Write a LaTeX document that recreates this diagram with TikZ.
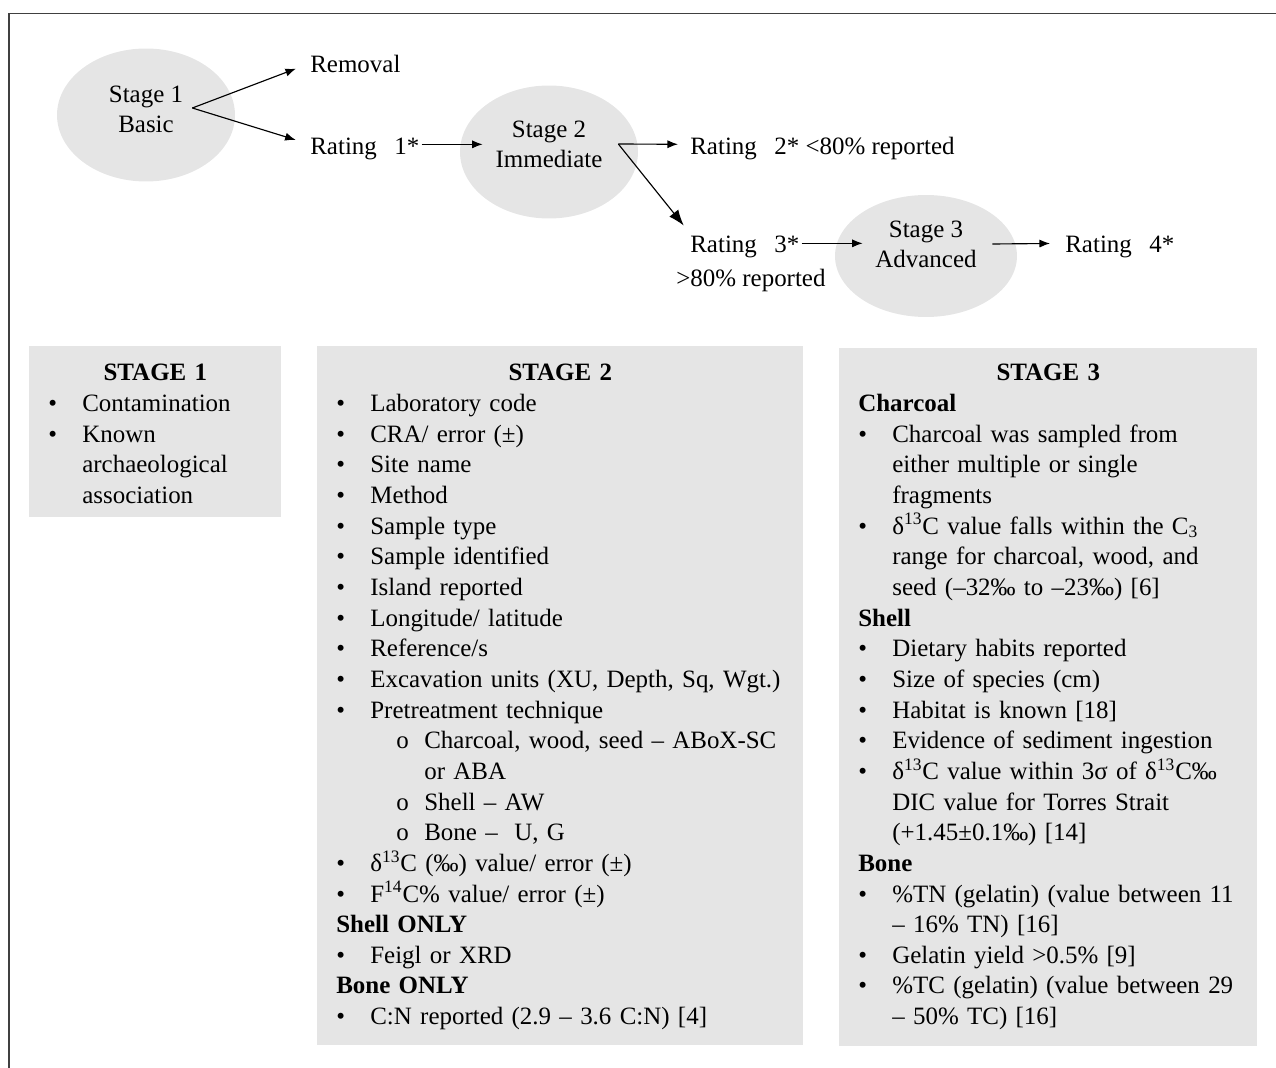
\documentclass[tikz,border=0pt]{standalone}
\usepackage{fontspec}
\setmainfont{Liberation Serif}
\usetikzlibrary{arrows.meta,shapes.geometric,calc}
\definecolor{panelgray}{RGB}{229,229,229}
\newcommand{\bul}[1]{\par\hangindent=0.68cm\hangafter=1\noindent\makebox[0.68cm][l]{\textbullet}#1}
\newcommand{\subbul}[1]{\par\hangindent=1.76cm\hangafter=1\noindent\hspace*{1.2cm}\makebox[0.56cm][l]{o}#1}
\newcommand{\hdr}[1]{\par\noindent\textbf{#1}}
\tikzset{
  stage/.style={ellipse,fill=panelgray,minimum width=3.56cm,minimum height=2.66cm,inner sep=0pt,align=center,font=\fontsize{14.2pt}{17pt}\selectfont,execute at end node={\rule[-#1]{0pt}{#1}}},
  stage/.default=8pt,
  rate/.style={inner sep=0pt,text height=11pt,text depth=0pt,anchor=base west,font=\fontsize{14.2pt}{17pt}\selectfont},
  arr/.style={-{Latex[length=6pt,width=4.6pt]},line width=0.65pt},
  panel/.style={fill=panelgray},
  listtext/.style={anchor=north west,inner sep=0pt,text width=#1,align=left,font=\fontsize{14.2pt}{17.45pt}\selectfont}
}
\begin{document}
\begin{tikzpicture}[x=0.02cm,y=-0.02cm]
\useasboundingbox (0,0) rectangle (1276,1068);
%frame
\draw[line width=1pt,black!75](9,1068)--(9,13.5)--(1276,13.5);
%stages
\node[stage=7pt](s1)at(146,115){Stage 1\\Basic};
\node[stage=9pt](s2)at(549,152){Stage 2\\Immediate};
\node[stage=13pt,minimum width=3.64cm,minimum height=2.44cm](s3)at(926,256){Stage 3\\Advanced};
%ratings
\node[rate](rem)at(310,73){Removal};
\node[rate](r1)at(310,154){Rating\hspace{0.7em}1*};
\node[rate](r2)at(690,154){Rating\hspace{0.7em}2* <80\% reported};
\node[rate](r3)at(690,253){Rating\hspace{0.7em}3*};
\node[rate](p80)at(676,287){>80\% reported};
\node[rate](r4)at(1065,253){Rating\hspace{0.7em}4*};
%forks and arrows
\coordinate(f1)at($(s1.east)+(-43,-7)$);
\coordinate(f2)at($(s2.east)+(-20,-8)$);
\coordinate(s2in)at($(s2.west)+(23,0)$);
\coordinate(s3in)at($(s3.west)+(28,0)$);
\coordinate(s3out)at($(s3.east)+(-25,-12)$);
\draw[arr,shorten >=0.3cm](f1)--(rem.west);
\draw[arr,shorten >=0.3cm](f1)--(r1.west);
\draw[arr,shorten <=0.04cm](r1.east)--(r1.east-|s2in);
\draw[arr,shorten >=0.24cm](f2)--(r2.west);
\draw[-{Latex[length=9pt,width=6.5pt]},line width=0.65pt,shorten >=0.2cm](f2)--(r3.north west);
\draw[arr,shorten <=0.04cm](r3.east)--(r3.east-|s3in);
\draw[arr,shorten >=0.3cm](s3out)--(r4.west);
%panels
\fill[panel](29,346)rectangle(281,517);
\fill[panel](317,346)rectangle(803,1045);
\fill[panel](839,348)rectangle(1257,1046);
%stage 1 list
\node[listtext=5cm](l1)at(48,359){\makebox[4.28cm]{\strut\textbf{STAGE 1}}
\bul{Contamination}
\bul{Known\newline archaeological\newline association}\par};
%stage 2 list
\node[listtext=9.6cm](l2)at(336,359){\makebox[8.96cm]{\strut\textbf{STAGE 2}}
\bul{Laboratory code}
\bul{CRA/ error (±)}
\bul{Site name}
\bul{Method}
\bul{Sample type}
\bul{Sample identified}
\bul{Island reported}
\bul{Longitude/ latitude}
\bul{Reference/s}
\bul{Excavation units (XU, Depth, Sq, Wgt.)}
\bul{Pretreatment technique}
\subbul{Charcoal, wood, seed -- ABoX-SC\newline or ABA}
\subbul{Shell -- AW}
\subbul{Bone --\ \ U, G}
\bul{δ\textsuperscript{13}C (‰) value/ error (±)}
\bul{F\textsuperscript{14}C\% value/ error (±)}
\hdr{Shell ONLY}
\bul{Feigl or XRD}
\hdr{Bone ONLY}
\bul{C:N reported (2.9 -- 3.6 C:N) [4]}\par};
%stage 3 list
\node[listtext=8.2cm](l3)at(858,359){\makebox[7.6cm]{\strut\textbf{STAGE 3}}
\hdr{Charcoal}
\bul{Charcoal was sampled from\newline either multiple or single\newline fragments}
\bul{δ\textsuperscript{13}C value falls within the C\textsubscript{3}\newline range for charcoal, wood, and\newline seed (--32‰ to --23‰) [6]}
\hdr{Shell}
\bul{Dietary habits reported}
\bul{Size of species (cm)}
\bul{Habitat is known [18]}
\bul{Evidence of sediment ingestion}
\bul{δ\textsuperscript{13}C value within 3σ of δ\textsuperscript{13}C‰\newline DIC value for Torres Strait\newline (+1.45±0.1‰) [14]}
\hdr{Bone}
\bul{\%TN (gelatin) (value between 11\newline -- 16\% TN) [16]}
\bul{Gelatin yield >0.5\% [9]}
\bul{\%TC (gelatin) (value between 29\newline -- 50\% TC) [16]}\par};
\end{tikzpicture}
\end{document}
